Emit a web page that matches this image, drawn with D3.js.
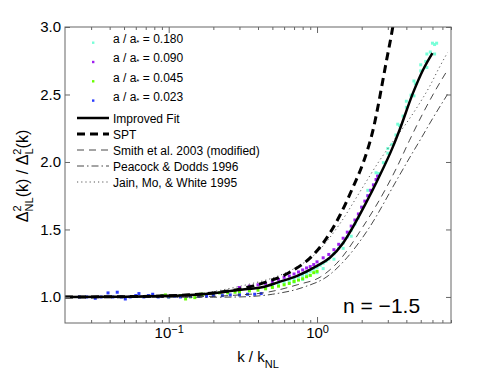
<!DOCTYPE html>
<html>
<head>
<meta charset="utf-8">
<script src="https://cdn.jsdelivr.net/npm/d3@7"></script>
<style>
  body { margin: 0; background: #fff; }
  svg { font-family: "Liberation Sans", Arial, Helvetica, sans-serif; }
</style>
</head>
<body>
<svg id="chart" width="498" height="375"></svg>
<script>
// simulation points, one array pair per expansion factor
const cyanK = [0.45, 0.5, 0.55, 0.6, 0.65, 0.7, 0.75, 0.8, 0.85, 0.9, 0.95, 1.0, 1.05, 1.1, 1.15, 1.2, 1.3, 1.4, 1.5, 1.6, 1.7, 1.8, 1.9,
    2.0, 2.2, 2.4, 2.6, 2.8, 3.0, 3.2, 3.4, 3.6, 3.8, 4.0, 4.3, 4.6, 5.0, 5.4, 5.8, 6.2, 6.4,
    2.2, 2.5, 3.0, 3.5, 4.0, 4.5, 5.0, 5.5, 6.0,
    0.7, 0.8, 0.9, 1.0, 1.1, 1.3, 1.5, 1.7, 4.5, 5.5, 6.2];
const cyanV = [1.07, 1.08, 1.095, 1.105, 1.12, 1.135, 1.15, 1.16, 1.175, 1.19, 1.205, 1.22, 1.235, 1.25, 1.265, 1.28, 1.32, 1.36, 1.40, 1.445, 1.495, 1.54, 1.585,
    1.665, 1.75, 1.83, 1.915, 1.995, 2.065, 2.13, 2.20, 2.27, 2.34, 2.405, 2.495, 2.58, 2.675, 2.745, 2.815, 2.87, 2.88,
    1.79, 1.92, 2.10, 2.28, 2.45, 2.60, 2.72, 2.80, 2.88,
    1.11, 1.13, 1.16, 1.18, 1.21, 1.28, 1.36, 1.45, 2.49, 2.70, 2.80];
const purpleK = [0.3, 0.35, 0.4, 0.45, 0.5, 0.55, 0.6, 0.65, 0.7, 0.75, 0.8, 0.85, 0.9, 0.95, 1.0, 1.1, 1.2, 1.3, 1.4, 1.5, 1.6, 1.7, 1.8, 1.9, 2.0, 2.1, 2.2, 2.3, 2.4, 2.5, 2.56];
const purpleV = [1.07, 1.08, 1.09, 1.10, 1.115, 1.13, 1.145, 1.155, 1.17, 1.185, 1.20, 1.215, 1.225, 1.24, 1.26, 1.29, 1.315, 1.35, 1.39, 1.435, 1.48, 1.525, 1.57, 1.615, 1.665, 1.71, 1.75, 1.79, 1.83, 1.87, 1.895];
const greenK = [0.09, 0.095, 0.1, 0.12, 0.13, 0.14, 0.15, 0.164, 0.17, 0.2, 0.22, 0.25, 0.28, 0.3, 0.35, 0.4, 0.45, 0.5, 0.55, 0.6, 0.65, 0.7, 0.75, 0.8, 0.85, 0.9, 0.95, 1.0];
const greenV = [1.01, 1.015, 1.0, 1.01, 0.985, 1.0, 0.995, 1.02, 1.02, 1.02, 1.03, 1.03, 1.035, 1.035, 1.045, 1.05, 1.06, 1.07, 1.08, 1.09, 1.10, 1.115, 1.125, 1.135, 1.15, 1.16, 1.18, 1.19];
const blueK = [0.025, 0.028, 0.032, 0.035, 0.039, 0.042, 0.045, 0.048, 0.051, 0.055, 0.06, 0.063, 0.068, 0.073, 0.078, 0.085, 0.09, 0.1, 0.11, 0.12, 0.14, 0.16, 0.18, 0.2, 0.23, 0.26, 0.3, 0.34, 0.38, 0.42];
const blueV = [1.0, 1.0, 0.99, 1.0, 1.03, 1.0, 1.035, 1.0, 0.985, 1.0, 1.01, 1.025, 1.0, 1.01, 1.02, 1.0, 1.005, 1.0, 1.005, 1.0, 1.005, 1.005, 1.005, 1.01, 1.01, 1.015, 1.015, 1.02, 1.02, 1.025];

// model curves
const fitK = [0.02, 0.05, 0.1, 0.15, 0.2, 0.261, 0.35, 0.434, 0.55, 0.735, 1.0, 1.22, 1.5, 1.75, 2.1, 2.56, 3.24, 3.6, 4.43, 5.17, 6.0];
const fitV = [1.0, 1.002, 1.008, 1.017, 1.028, 1.044, 1.06, 1.074, 1.11, 1.156, 1.23, 1.29, 1.40, 1.52, 1.68, 1.867, 2.11, 2.237, 2.51, 2.68, 2.807];
const sptK = [0.02, 0.05, 0.1, 0.15, 0.2, 0.304, 0.435, 0.66, 0.94, 1.05, 1.43, 1.75, 2.04, 2.34, 2.95, 3.24, 3.4];
const sptV = [1.0, 1.002, 1.008, 1.018, 1.03, 1.06, 1.104, 1.185, 1.31, 1.37, 1.607, 1.815, 1.99, 2.2, 2.76, 3.0, 3.15];
const smithK = [0.02, 0.1, 0.2, 0.3, 0.434, 0.735, 1.06, 1.36, 2.04, 2.95, 3.45, 4.2, 5.17, 6.2, 7.57];
const smithV = [1.0, 1.0, 1.005, 1.015, 1.03, 1.09, 1.15, 1.25, 1.52, 1.815, 1.96, 2.16, 2.36, 2.52, 2.68];
const pdK = [0.02, 0.1, 0.2, 0.3, 0.5, 0.8, 1.2, 1.59, 2.27, 3.45, 4.2, 5.0, 6.0, 7.57];
const pdV = [1.0, 0.998, 0.998, 1.0, 1.02, 1.07, 1.16, 1.29, 1.52, 1.867, 2.03, 2.17, 2.32, 2.50];
const jainK = [0.02, 0.1, 0.177, 0.25, 0.366, 0.5, 0.7, 1.0, 1.4, 2.0, 2.6, 3.24, 3.9, 4.69, 5.74, 6.6, 7.57];
const jainV = [1.0, 1.01, 1.03, 1.06, 1.10, 1.14, 1.21, 1.33, 1.53, 1.80, 2.0, 2.15, 2.27, 2.40, 2.56, 2.69, 2.81];

const yTicks = [1.0, 1.5, 2.0, 2.5, 3.0];
const xMajor = [0.1, 1];
const xExponents = ["\u22121", "0"];
const xMinor = [0.03, 0.04, 0.05, 0.06, 0.07, 0.08, 0.09, 0.2, 0.3, 0.4, 0.5, 0.6, 0.7, 0.8, 0.9, 2, 3, 4, 5, 6, 7, 8];

const scatterNames = ["0.180", "0.090", "0.045", "0.023"];
const lineNames = ["Improved Fit", "SPT", "Smith et al. 2003 (modified)", "Peacock & Dodds 1996", "Jain, Mo, & White 1995"];

const margin = { top: 27, right: 47, bottom: 52, left: 65 },
    width = 498 - margin.left - margin.right,
    height = 375 - margin.top - margin.bottom;

const svg = d3.select("#chart");
const g = svg.append("g").attr("transform", `translate(${margin.left},${margin.top})`);

const x = d3.scaleLog().domain([0.02, 8]).range([0, width]);
const y = d3.scaleLinear().domain([0.807, 3.0]).range([height, 0]);

g.append("clipPath").attr("id", "clip")
    .append("rect").attr("width", width).attr("height", height);

const plot = g.append("g").attr("clip-path", "url(#clip)");

const scatter = [
    { k: cyanK, v: cyanV, color: "#78ffd8" },
    { k: purpleK, v: purpleV, color: "#a020f0" },
    { k: greenK, v: greenV, color: "#66ff00" },
    { k: blueK, v: blueV, color: "#2b3cff" }
];

scatter.forEach(s => {
    plot.append("g").selectAll("rect")
        .data(d3.zip(s.k, s.v))
        .enter().append("rect")
        .attr("x", d => x(d[0]) - 1.5)
        .attr("y", d => y(d[1]) - 1.5)
        .attr("width", 3)
        .attr("height", 3)
        .attr("fill", s.color);
});

const line = d3.line()
    .x(d => x(d[0]))
    .y(d => y(d[1]))
    .curve(d3.curveMonotoneX);

const curves = [
    { k: jainK, v: jainV, w: 0.9, dash: "1.2,3", color: "#444" },
    { k: pdK, v: pdV, w: 0.9, dash: "7,3,1.5,3", color: "#333" },
    { k: smithK, v: smithV, w: 0.9, dash: "7,5", color: "#333" },
    { k: sptK, v: sptV, w: 3, dash: "8,5", color: "#000" },
    { k: fitK, v: fitV, w: 2.5, dash: null, color: "#000" }
];

curves.forEach(c => {
    plot.append("path")
        .datum(d3.zip(c.k, c.v))
        .attr("d", line)
        .attr("fill", "none")
        .attr("stroke", c.color)
        .attr("stroke-width", c.w)
        .attr("stroke-dasharray", c.dash);
});

// frame and ticks
const axisColor = "#666";
function styleAxis(sel) {
    sel.select(".domain").remove();
    sel.selectAll(".tick line").attr("stroke", axisColor);
    sel.selectAll("text").attr("fill", "#000").attr("font-size", 15)
        .attr("font-family", "Liberation Sans, Arial, sans-serif");
}

g.append("g")
    .call(d3.axisLeft(y).tickValues(yTicks).tickSize(-5).tickPadding(4).tickFormat(d3.format(".1f")))
    .call(styleAxis);
g.append("g").attr("transform", `translate(${width},0)`)
    .call(d3.axisRight(y).tickValues(yTicks).tickSize(-5).tickFormat(""))
    .call(styleAxis);

const xb = g.append("g").attr("transform", `translate(0,${height})`)
    .call(d3.axisBottom(x).tickValues(xMajor).tickSize(-6).tickPadding(4).tickFormat(() => "10"))
    .call(styleAxis);
xb.selectAll(".tick text")
    .append("tspan")
    .attr("dy", "-0.45em")
    .attr("font-size", 11)
    .text((d, i) => xExponents[i]);

g.append("g").attr("transform", `translate(0,${height})`)
    .call(d3.axisBottom(x).tickValues(xMinor).tickSize(-3).tickFormat(""))
    .call(styleAxis);
g.append("g")
    .call(d3.axisTop(x).tickValues(xMajor).tickSize(-6).tickFormat(""))
    .call(styleAxis);
g.append("g")
    .call(d3.axisTop(x).tickValues(xMinor).tickSize(-3).tickFormat(""))
    .call(styleAxis);

g.append("rect")
    .attr("width", width).attr("height", height)
    .attr("fill", "none").attr("stroke", axisColor).attr("stroke-width", 1);

// legend
const legend = g.append("g").attr("font-size", 12);
scatter.forEach((s, i) => {
    const yy = 16 + i * 19.3;
    legend.append("rect")
        .attr("x", 27).attr("y", yy - 1.5)
        .attr("width", 2.4).attr("height", 2.4)
        .attr("fill", s.color);
    const t = legend.append("text").attr("x", 48).attr("y", yy);
    t.append("tspan").text("a / a");
    t.append("tspan").attr("font-size", 8).attr("dy", 2).text("*");
    t.append("tspan").attr("dy", -2).text(" = " + scatterNames[i]);
});
curves.slice().reverse().forEach((c, i) => {
    const yy = 91 + i * 16;
    legend.append("line")
        .attr("x1", 12).attr("x2", 44)
        .attr("y1", yy).attr("y2", yy)
        .attr("stroke", c.color)
        .attr("stroke-width", c.w)
        .attr("stroke-dasharray", c.dash);
    legend.append("text")
        .attr("x", 48).attr("y", yy + 4.5)
        .text(lineNames[i]);
});

g.append("text")
    .attr("x", 278).attr("y", 286)
    .attr("font-size", 21)
    .text("n = \u22121.5");

// axis titles
const xl = svg.append("text")
    .attr("x", 258).attr("y", 362)
    .attr("text-anchor", "middle")
    .attr("font-size", 15);
xl.append("tspan").text("k / k");
xl.append("tspan").attr("font-size", 11).attr("dy", 6).text("NL");

const yl = svg.append("text")
    .attr("transform", "translate(28,176) rotate(-90)")
    .attr("text-anchor", "middle")
    .attr("font-size", 16);
yl.append("tspan").text("\u0394");
yl.append("tspan").attr("font-size", 11).attr("dy", -7).text("2");
yl.append("tspan").attr("font-size", 11).attr("dx", -6).attr("dy", 12).text("NL");
yl.append("tspan").attr("dy", -5).text("(k) / \u0394");
yl.append("tspan").attr("font-size", 11).attr("dy", -7).text("2");
yl.append("tspan").attr("font-size", 11).attr("dx", -6).attr("dy", 12).text("L");
yl.append("tspan").attr("dy", -5).text("(k)");
</script>
</body>
</html>
